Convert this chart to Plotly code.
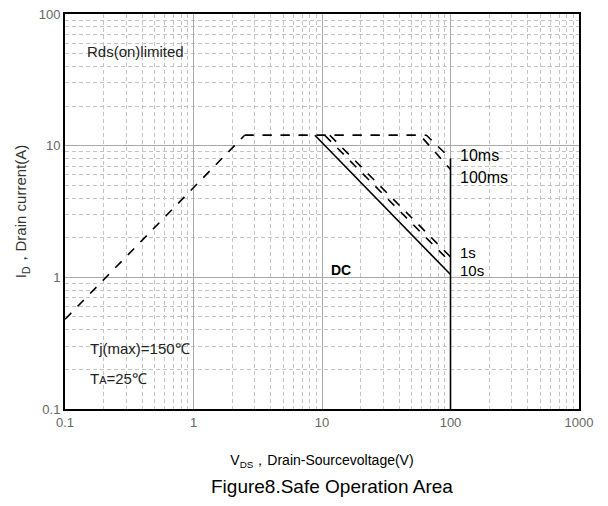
import plotly.graph_objects as go

# ---- data ----
rds_x = [0.1, 2.5]
rds_y = [0.48, 12]
ms10_x = [2.5, 65, 100]
ms10_y = [12, 12, 8.0]
ms100_x = [2.5, 58, 100]
ms100_y = [12, 12, 6.6]
s1_x = [11.5, 100]
s1_y = [12, 1.43]
s10_x = [10.5, 100]
s10_y = [12, 1.3]
dc_x = [8.8, 100]
dc_y = [12, 1.05]
vlim_x = [100, 100]
vlim_y = [8.0, 0.1]

x_ticks = [0.1, 1, 10, 100, 1000]
x_tick_text = ["0.1", "1", "10", "100", "1000"]
y_ticks = [0.1, 1, 10, 100]
y_tick_text = ["0.1", "1", "10", "100"]

FONT = "Liberation Sans, Arial, sans-serif"

fig = go.Figure()
dash_line = dict(color="black", width=1.6, dash="dash")
solid_line = dict(color="black", width=1.6)
for xs, ys, ln in [
    (rds_x, rds_y, dash_line),
    (ms10_x, ms10_y, dash_line),
    (ms100_x, ms100_y, dash_line),
    (s1_x, s1_y, dash_line),
    (s10_x, s10_y, dash_line),
    (dc_x, dc_y, solid_line),
    (vlim_x, vlim_y, solid_line),
]:
    fig.add_trace(go.Scatter(x=xs, y=ys, mode="lines", line=ln, showlegend=False, hoverinfo="skip"))

axis_common = dict(
    type="log", automargin=False, ticklabeloverflow="allow",
    showline=True, linecolor="black", linewidth=2, mirror=True,
    showgrid=True, gridcolor="#a8a8a8", gridwidth=1,
    ticks="", zeroline=False,
    tickfont=dict(family=FONT, size=13, color="#666666"),
    minor=dict(dtick="D1", showgrid=True, gridcolor="#c4c4c4", griddash="4px,3px", gridwidth=1, ticks=""),
)

fig.update_xaxes(range=[-1, 3], tickvals=x_ticks, ticktext=x_tick_text, **axis_common,
                 title=dict(text="V<sub>DS</sub>，Drain-Sourcevoltage(V)",
                            font=dict(family=FONT, size=14, color="black"), standoff=27))
fig.update_yaxes(range=[-1, 2], tickvals=y_ticks, ticktext=y_tick_text, **axis_common,
                 title=dict(text="I<sub>D</sub>，Drain current(A)",
                            font=dict(family=FONT, size=15, color="#333333"), standoff=8))

def ann(text, x, y, size=15, xanchor="left", bold=False, color="black"):
    fig.add_annotation(text=f"<b>{text}</b>" if bold else text, x=x, y=y, xref="paper", yref="paper",
                       xanchor=xanchor, yanchor="middle", showarrow=False,
                       font=dict(family=FONT, size=size, color=color))

ann("Rds(on)limited", 0.039, 0.904, size=15, color="#222222")
ann("Tj(max)=150℃", 0.045, 0.154, size=15, color="#222222")
ann("T<span style='font-size:11px'>A</span>=25℃", 0.045, 0.078, size=15, color="#222222")
ann("DC", 0.537, 0.352, size=14, xanchor="center", bold=True)
ann("10ms", 0.765, 0.643, size=16)
ann("100ms", 0.765, 0.585, size=16)
ann("1s", 0.765, 0.395, size=15)
ann("10s", 0.765, 0.350, size=15)

fig.add_annotation(text="Figure8.Safe Operation Area", x=0.52, y=-0.197, xref="paper", yref="paper",
                   xanchor="center", yanchor="middle", showarrow=False,
                   font=dict(family="Liberation Sans, Arial, sans-serif", size=19, color="black"))

# page body has an 8px offset; margins compensate so the plot area matches the reference
fig.update_layout(
    width=608, height=506,
    margin=dict(l=57, r=37, t=6, b=105),
    plot_bgcolor="white", paper_bgcolor="white",
)

fig.write_html("out.html")
